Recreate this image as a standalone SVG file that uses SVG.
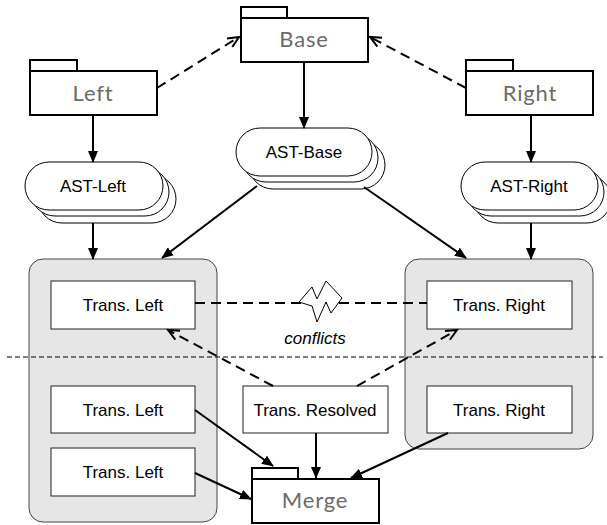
<svg xmlns="http://www.w3.org/2000/svg" width="607" height="525" viewBox="0 0 607 525">
<defs>
<marker id="fa" markerWidth="12" markerHeight="10" refX="11" refY="5" orient="auto" markerUnits="userSpaceOnUse"><path d="M0,0 L12,5 L0,10 z" fill="#000"/></marker>
<marker id="oa" markerWidth="14" markerHeight="12" refX="12" refY="6" orient="auto" markerUnits="userSpaceOnUse"><path d="M1,1 L12,6 L1,11" fill="none" stroke="#000" stroke-width="2"/></marker>
</defs>
<style>
.folder{fill:#fff;stroke:#000;stroke-width:2}
.ftxt{font-family:Lato,"Open Sans",sans-serif;font-size:22px;letter-spacing:0.8px;fill:#6b6b6b;text-anchor:middle}
.stad{fill:#fff;stroke:#000;stroke-width:1}
.txt{font-family:"Liberation Sans",Arial,sans-serif;font-size:17px;fill:#000;text-anchor:middle}
.box{fill:#fff;stroke:#222;stroke-width:1}
.cont{fill:#e6e6e6;stroke:#444;stroke-width:1}
.sol{fill:none;stroke:#000;stroke-width:2;marker-end:url(#fa)}
.dsh{fill:none;stroke:#000;stroke-width:2;stroke-dasharray:10 6;marker-end:url(#oa)}
</style>
<rect width="607" height="525" fill="#fff"/>
<g id="container-left"><rect class="cont" x="29" y="259" width="188" height="263" rx="14"/></g>
<g id="container-right"><rect class="cont" x="405" y="259" width="188" height="190" rx="14"/></g>
<g id="base"><rect class="folder" x="241" y="7" width="46" height="11"/><rect class="folder" x="241" y="18" width="127" height="44"/><text class="ftxt" x="304" y="47">Base</text></g>
<g id="left"><rect class="folder" x="30" y="60" width="47" height="11"/><rect class="folder" x="30" y="71" width="127" height="44"/><text class="ftxt" x="93" y="101">Left</text></g>
<g id="right"><rect class="folder" x="466" y="60" width="47" height="11"/><rect class="folder" x="466" y="71" width="127" height="44"/><text class="ftxt" x="530" y="101">Right</text></g>
<g id="ast-left"><rect class="stad" x="38" y="175" width="138" height="48" rx="24"/><rect class="stad" x="31" y="168" width="138" height="48" rx="24"/><rect class="stad" x="25" y="162" width="138" height="48" rx="24"/><text class="txt" x="93" y="192">AST-Left</text></g>
<g id="ast-base"><rect class="stad" x="249" y="141" width="136" height="48" rx="24"/><rect class="stad" x="242" y="134" width="136" height="48" rx="24"/><rect class="stad" x="236" y="128" width="136" height="48" rx="24"/><text class="txt" x="304" y="158">AST-Base</text></g>
<g id="ast-right"><rect class="stad" x="474" y="175" width="137" height="48" rx="24"/><rect class="stad" x="467" y="168" width="137" height="48" rx="24"/><rect class="stad" x="461" y="162" width="137" height="48" rx="24"/><text class="txt" x="529" y="192">AST-Right</text></g>
<g id="trans-left-1"><rect class="box" x="51" y="281" width="144" height="48"/><text class="txt" x="123" y="311">Trans. Left</text></g>
<g id="trans-left-2"><rect class="box" x="51" y="386" width="144" height="47"/><text class="txt" x="123" y="416">Trans. Left</text></g>
<g id="trans-left-3"><rect class="box" x="51" y="448" width="144" height="48"/><text class="txt" x="123" y="478">Trans. Left</text></g>
<g id="trans-right-1"><rect class="box" x="427" y="281" width="145" height="48"/><text class="txt" x="499" y="311">Trans. Right</text></g>
<g id="trans-right-2"><rect class="box" x="427" y="386" width="145" height="47"/><text class="txt" x="499" y="416">Trans. Right</text></g>
<g id="trans-resolved"><rect class="box" x="243" y="386" width="145" height="47"/><text class="txt" x="315" y="416">Trans. Resolved</text></g>
<g id="merge"><rect class="folder" x="252" y="468" width="46" height="11"/><rect class="folder" x="252" y="479" width="127" height="44"/><text class="ftxt" x="315" y="508">Merge</text></g>
<g id="connectors">
<line class="dsh" x1="157" y1="88" x2="239" y2="37"/>
<line class="dsh" x1="466" y1="88" x2="370" y2="37"/>
<line class="sol" x1="304" y1="62" x2="304" y2="128"/>
<line class="sol" x1="93" y1="115" x2="93" y2="162"/>
<line class="sol" x1="531" y1="115" x2="531" y2="162"/>
<line class="sol" x1="93" y1="223" x2="93" y2="259"/>
<line class="sol" x1="531" y1="223" x2="531" y2="259"/>
<line class="sol" x1="257" y1="186" x2="162" y2="258"/>
<line class="sol" x1="364" y1="187" x2="466" y2="258"/>
<line fill="none" stroke="#000" stroke-width="2" stroke-dasharray="10 6" x1="195" y1="303" x2="427" y2="303"/>
<polygon points="299,302 312,287 317,299 326,281 342,298 331,313 326,302 317,322 312,306" fill="#fff" stroke="#000" stroke-width="1"/>
<line class="dsh" x1="273" y1="386" x2="168" y2="330"/>
<line class="dsh" x1="357" y1="386" x2="457" y2="330"/>
<line class="sol" x1="195" y1="410" x2="273" y2="466"/>
<line class="sol" x1="195" y1="473" x2="251" y2="499"/>
<line class="sol" x1="316" y1="433" x2="316" y2="478"/>
<line class="sol" x1="448" y1="433" x2="351" y2="478"/>
</g>
<line x1="7" y1="357" x2="603" y2="357" stroke="#000" stroke-width="1" stroke-dasharray="5 3"/>
<text x="315" y="344" font-family="'Liberation Sans',Arial,sans-serif" font-size="17" font-style="italic" text-anchor="middle">conflicts</text>
</svg>
